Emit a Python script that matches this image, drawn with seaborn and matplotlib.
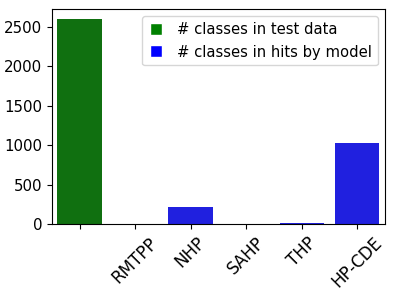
import matplotlib
matplotlib.use("Agg")
import matplotlib.pyplot as plt
import seaborn as sns
import pandas as pd
from matplotlib.lines import Line2D

# Values
models = ["", "RMTPP", "NHP", "SAHP", "THP", "HP-CDE"]
counts = [2600, 0, 212, 0, 8, 1030]
bar_colors = ["green", "blue", "blue", "blue", "blue", "blue"]

df = pd.DataFrame({"model": models, "count": counts})

fig = plt.figure(figsize=(3.99, 2.99), dpi=100)
ax = fig.add_axes([0.13, 0.251, 0.835, 0.719])
sns.barplot(data=df, x="model", y="count", hue="model",
            palette=bar_colors, legend=False, ax=ax)

ax.set_xlabel("")
ax.set_ylabel("")
ax.tick_params(axis="y", labelsize=10.8)
ax.tick_params(axis="x", labelsize=12)
plt.xticks(rotation=45)

handles = [
    Line2D([0], [0], marker="s", color="w", markerfacecolor="green",
           markersize=8.5, label="# classes in test data"),
    Line2D([0], [0], marker="s", color="w", markerfacecolor="blue",
           markersize=8.5, label="# classes in hits by model"),
]
ax.legend(handles=handles, loc="upper right", fontsize=10.6,
          handlelength=1.2)

plt.savefig("out.png", dpi=100)
plt.close()
